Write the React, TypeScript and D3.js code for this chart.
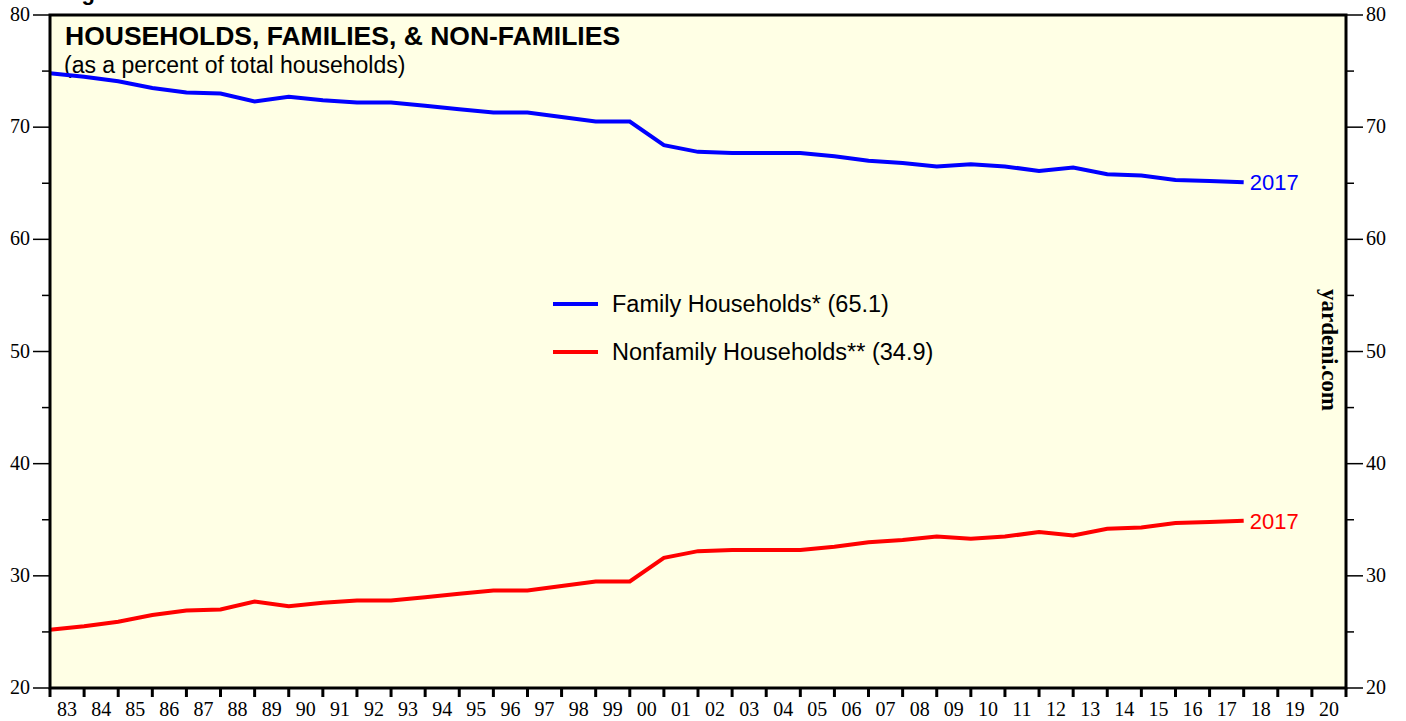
import React from "react";
import * as d3 from "d3";

// 年份 (每年資料畫在年底)
const years = d3.range(1982, 2018);

// 家庭戶比例 (%)
const familyValues = [
  74.8, 74.5, 74.1, 73.5, 73.1, 73.0, 72.3, 72.7, 72.4, 72.2,
  72.2, 71.9, 71.6, 71.3, 71.3, 70.9, 70.5, 70.5, 68.4, 67.8,
  67.7, 67.7, 67.7, 67.4, 67.0, 66.8, 66.5, 66.7, 66.5, 66.1,
  66.4, 65.8, 65.7, 65.3, 65.2, 65.1,
];

// 非家庭戶比例 (%)
const nonfamilyValues = [
  25.2, 25.5, 25.9, 26.5, 26.9, 27.0, 27.7, 27.3, 27.6, 27.8,
  27.8, 28.1, 28.4, 28.7, 28.7, 29.1, 29.5, 29.5, 31.6, 32.2,
  32.3, 32.3, 32.3, 32.6, 33.0, 33.2, 33.5, 33.3, 33.5, 33.9,
  33.6, 34.2, 34.3, 34.7, 34.8, 34.9,
];

const xTickYears = d3.range(1983, 2022);
const xLabelYears = d3.range(1983, 2021);
const yMajorTicks = [20, 30, 40, 50, 60, 70, 80];
const yMinorTicks = [25, 35, 45, 55, 65, 75];

const W = 1406;
const H = 721;
const left = 50;
const right = 1346;
const top = 15;
const bottom = 688;

const sans = "Arial, 'Liberation Sans', Helvetica, sans-serif";
const serif = "'Times New Roman', 'Liberation Serif', Times, serif";

const App = () => {
  const x = d3.scaleLinear().domain([1983, 2021]).range([left, right]);
  const y = d3.scaleLinear().domain([20, 80]).range([bottom, top]);

  const line = d3
    .line<number>()
    .x((d, i) => x(years[i] + 1))
    .y((d) => y(d));

  const lastX = x(years[years.length - 1] + 1);

  return (
    <svg
      width={W}
      height={H}
      style={{ position: "absolute", left: 0, top: 0, background: "#fff" }}
    >
      {/* 圖號 (被裁切) */}
      <text x={62} y={0} fontFamily={sans} fontWeight="bold" fontSize={22}>
        Figure 3.
      </text>

      {/* 繪圖區背景 */}
      <rect x={left} y={top} width={right - left} height={bottom - top} fill="#FFFFE5" />

      {/* 左右 y 軸刻度 */}
      {yMajorTicks.map((v) => (
        <g key={"m" + v}>
          <line x1={33} x2={left} y1={y(v)} y2={y(v)} stroke="#000" strokeWidth={1.5} />
          <line x1={right} x2={right + 17} y1={y(v)} y2={y(v)} stroke="#000" strokeWidth={1.5} />
          <text x={30} y={y(v) + 6} textAnchor="end" fontFamily={serif} fontSize={20}>
            {v}
          </text>
          <text x={right + 20} y={y(v) + 6} fontFamily={serif} fontSize={20}>
            {v}
          </text>
        </g>
      ))}
      {yMinorTicks.map((v) => (
        <g key={"n" + v}>
          <line x1={42} x2={left} y1={y(v)} y2={y(v)} stroke="#000" strokeWidth={1.5} />
          <line x1={right} x2={right + 8} y1={y(v)} y2={y(v)} stroke="#000" strokeWidth={1.5} />
        </g>
      ))}

      {/* x 軸刻度 */}
      {xTickYears.map((yr) => (
        <line
          key={"t" + yr}
          x1={x(yr)}
          x2={x(yr)}
          y1={bottom}
          y2={bottom + 9}
          stroke="#000"
          strokeWidth={3}
        />
      ))}
      {xLabelYears.map((yr) => (
        <text
          key={"l" + yr}
          x={x(yr + 0.5)}
          y={716}
          textAnchor="middle"
          fontFamily={serif}
          fontSize={20}
        >
          {String(yr % 100).padStart(2, "0")}
        </text>
      ))}

      {/* 標題 */}
      <text x={65} y={45} fontFamily={sans} fontWeight="bold" fontSize={26.5}>
        HOUSEHOLDS, FAMILIES, &amp; NON-FAMILIES
      </text>
      <text x={64} y={73} fontFamily={sans} fontSize={23}>
        (as a percent of total households)
      </text>

      {/* 折線 */}
      <path d={line(familyValues) || ""} fill="none" stroke="#0000FF" strokeWidth={4} />
      <path d={line(nonfamilyValues) || ""} fill="none" stroke="#FF0000" strokeWidth={4} />

      {/* 終點年份標籤 */}
      <text x={lastX + 6} y={y(familyValues[familyValues.length - 1]) + 8} fontFamily={sans} fontSize={22} fill="#0000FF">
        2017
      </text>
      <text x={lastX + 6} y={y(nonfamilyValues[nonfamilyValues.length - 1]) + 8} fontFamily={sans} fontSize={22} fill="#FF0000">
        2017
      </text>

      {/* 圖例 */}
      <line x1={553} x2={598} y1={304} y2={304} stroke="#0000FF" strokeWidth={4} />
      <text x={612} y={312} fontFamily={sans} fontSize={23.5}>
        Family Households* (65.1)
      </text>
      <line x1={553} x2={598} y1={352} y2={352} stroke="#FF0000" strokeWidth={4} />
      <text x={612} y={360} fontFamily={sans} fontSize={23.5}>
        Nonfamily Households** (34.9)
      </text>

      {/* 來源 */}
      <text
        transform={`translate(1322,350) rotate(90)`}
        textAnchor="middle"
        fontFamily={serif}
        fontWeight="bold"
        fontSize={23}
      >
        yardeni.com
      </text>

      {/* 繪圖區外框 */}
      <rect
        x={left}
        y={top}
        width={right - left}
        height={bottom - top}
        fill="none"
        stroke="#000"
        strokeWidth={3}
      />
    </svg>
  );
};

export default App;
